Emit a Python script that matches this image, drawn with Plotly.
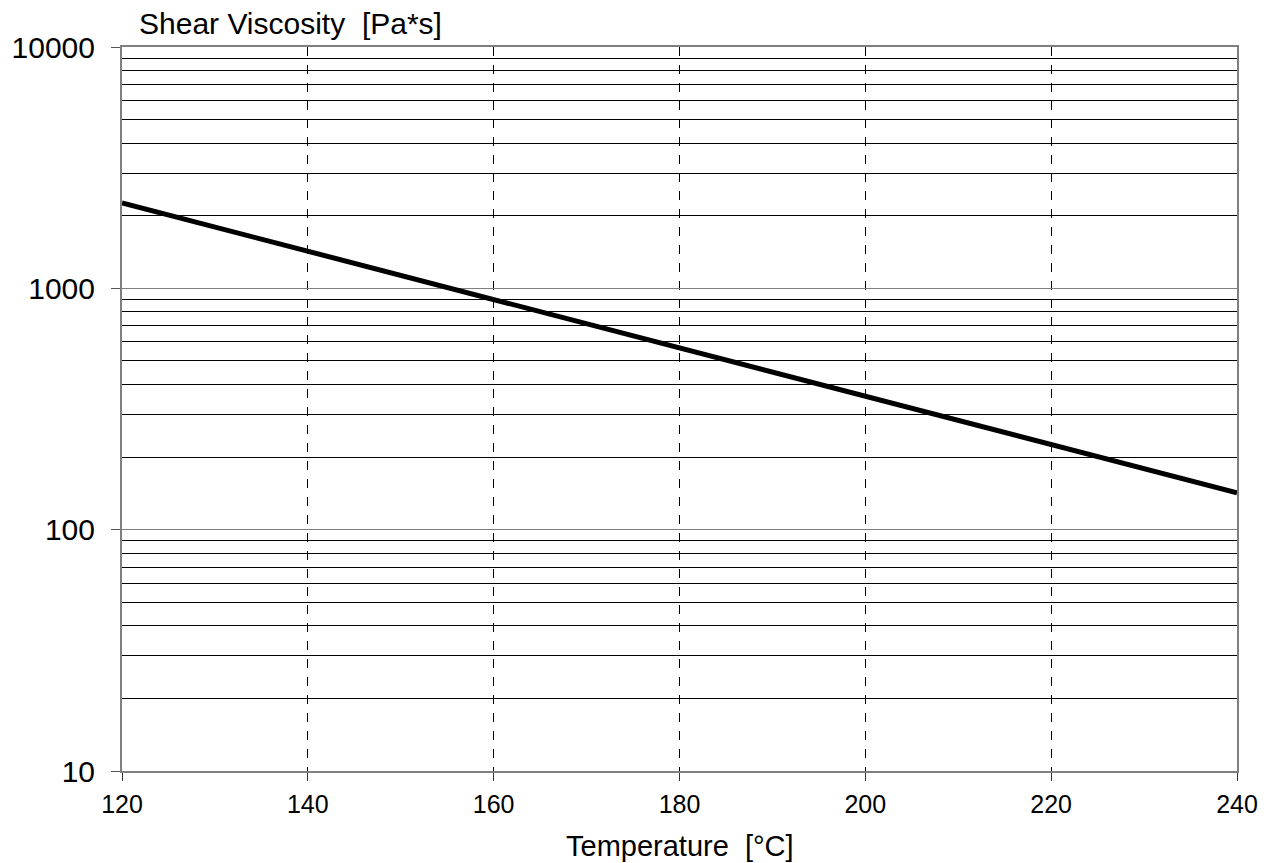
import plotly.graph_objects as go

temperature = [120, 140, 160, 180, 200, 220, 240]
viscosity = [2260, 1425, 900, 568, 358, 226, 142]

x_ticks = [120, 140, 160, 180, 200, 220, 240]
y_ticks = [10, 100, 1000, 10000]
y_title = "Shear Viscosity  [Pa*s]"
x_title = "Temperature  [°C]"

FONT = "Liberation Sans, Arial, sans-serif"

fig = go.Figure()
fig.add_trace(go.Scatter(
    x=temperature, y=viscosity, mode="lines",
    line=dict(color="black", width=5), showlegend=False,
))

fig.update_layout(
    width=1269, height=863,
    margin=dict(l=122, r=32, t=47, b=92, autoexpand=False),
    paper_bgcolor="white", plot_bgcolor="white",
    font=dict(family=FONT, color="black"),
    annotations=[
        dict(text=y_title, xref="paper", yref="paper", x=0.0135, y=1.0,
             xanchor="left", yanchor="bottom", yshift=5, showarrow=False,
             font=dict(size=30, family=FONT, color="black")),
        dict(text=x_title, xref="paper", yref="paper", x=0.5, y=0,
             xanchor="center", yanchor="top", yshift=-57, showarrow=False,
             font=dict(size=29, family=FONT, color="black")),
    ],
)

fig.update_xaxes(
    range=[120, 240], tickvals=x_ticks, ticktext=[str(v) for v in x_ticks],
    showgrid=True, gridcolor="black", gridwidth=1, griddash="dash",
    showline=True, linecolor="#7f7f7f", linewidth=2, mirror=True,
    ticks="outside", ticklen=8, tickcolor="#333", tickwidth=1,
    ticklabelstandoff=2, automargin=False,
    tickfont=dict(size=25, family=FONT, color="black"), zeroline=False,
)
fig.update_yaxes(
    type="log", range=[1, 4], tickvals=y_ticks, ticktext=[str(v) for v in y_ticks],
    showgrid=True, gridcolor="#7f7f7f", gridwidth=1,
    minor=dict(dtick="D1", showgrid=True, gridcolor="black", gridwidth=1, ticks=""),
    showline=True, linecolor="#7f7f7f", linewidth=2, mirror=True,
    ticks="outside", ticklen=9, tickcolor="#555", tickwidth=1,
    ticklabelstandoff=10, automargin=False,
    tickfont=dict(size=30, family=FONT, color="black"), zeroline=False,
)

fig.write_html(
    "out.html",
    config={"displayModeBar": False},
    post_script="document.body.style.margin='0';document.body.style.overflow='hidden';",
)
